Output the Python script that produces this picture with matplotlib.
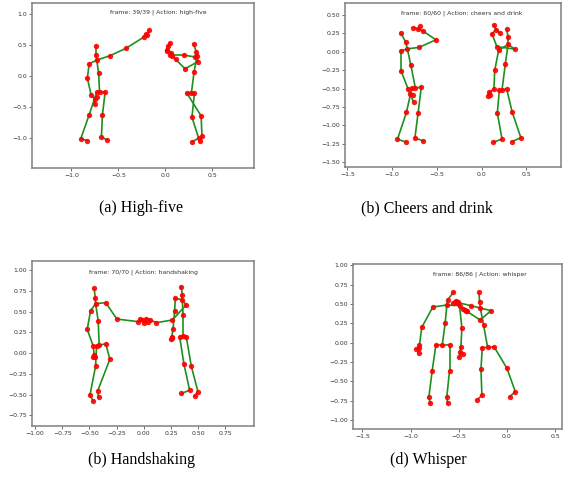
import numpy as np
import matplotlib
matplotlib.use("Agg")
import matplotlib.pyplot as plt

# NTU RGB+D 25-joint skeleton, joints listed 1..25
bones = [(1, 2), (2, 21), (3, 21), (4, 3), (5, 21), (6, 5), (7, 6), (8, 7),
         (9, 21), (10, 9), (11, 10), (12, 11), (13, 1), (14, 13), (15, 14),
         (16, 15), (17, 1), (18, 17), (19, 18), (20, 19), (22, 8), (23, 8),
         (24, 12), (25, 12)]

# (a) high-five
hf_p1_x = [-0.70, -0.71, -0.74, -0.74, -0.81, -0.83, -0.79, -0.75, -0.59, -0.42, -0.23, -0.20, -0.73,
           -0.81, -0.90, -0.83, -0.64, -0.67, -0.68, -0.62, -0.73, -0.75, -0.73, -0.17, -0.21]
hf_p1_y = [-0.27, 0.04, 0.33, 0.47, 0.19, -0.04, -0.31, -0.37, 0.32, 0.44, 0.62, 0.65, -0.27,
           -0.63, -1.02, -1.05, -0.26, -0.64, -0.99, -1.04, 0.25, -0.46, -0.34, 0.73, 0.67]
hf_p2_x = [0.277, 0.305, 0.33, 0.30, 0.347, 0.21, 0.11, 0.064, 0.32, 0.198, 0.05, 0.02, 0.227,
           0.38, 0.39, 0.37, 0.31, 0.283, 0.354, 0.283, 0.336, 0.015, 0.074, 0.045, 0.03]
hf_p2_y = [-0.28, 0.05, 0.38, 0.51, 0.226, 0.11, 0.26, 0.36, 0.30, 0.33, 0.33, 0.42, -0.28,
           -0.65, -0.98, -1.05, -0.28, -0.67, -1.01, -1.07, 0.318, 0.40, 0.32, 0.52, 0.47]

# (b) cheers and drink
cd_p1_x = [-0.74, -0.79, -0.846, -0.90, -0.90, -0.90, -0.82, -0.80, -0.70, -0.51, -0.66, -0.715, -0.78,
           -0.84, -0.94, -0.84, -0.674, -0.71, -0.745, -0.65, -0.83, -0.76, -0.77, -0.77, -0.69]
cd_p1_y = [-0.494, -0.186, 0.127, 0.25, 0.014, -0.26, -0.51, -0.58, 0.06, 0.163, 0.286, 0.313, -0.494,
           -0.825, -1.19, -1.23, -0.48, -0.834, -1.17, -1.215, 0.04, -0.68, -0.585, 0.33, 0.35]
cd_p2_x = [0.228, 0.265, 0.295, 0.28, 0.19, 0.146, 0.138, 0.086, 0.37, 0.17, 0.116, 0.16, 0.198,
           0.175, 0.228, 0.13, 0.28, 0.34, 0.438, 0.34, 0.295, 0.071, 0.093, 0.138, 0.206]
cd_p2_y = [-0.516, -0.163, 0.20, 0.31, 0.02, -0.254, -0.507, -0.553, 0.037, 0.07, 0.245, 0.30, -0.526,
           -0.833, -1.187, -1.232, -0.507, -0.815, -1.168, -1.222, 0.10, -0.598, -0.584, 0.367, 0.254]

# (c) handshaking
hs_p1_x = [-0.41, -0.419, -0.446, -0.456, -0.489, -0.52, -0.465, -0.456, -0.349, -0.248, -0.052, -0.031, -0.434,
           -0.443, -0.495, -0.465, -0.349, -0.312, -0.425, -0.416, -0.443, -0.45, -0.468, -0.006, 0.003]
hs_p1_y = [0.093, 0.386, 0.66, 0.78, 0.51, 0.286, 0.084, -0.024, 0.607, 0.41, 0.378, 0.406, 0.084,
           -0.157, -0.507, -0.575, 0.113, -0.076, -0.459, -0.535, 0.595, -0.044, -0.044, 0.398, 0.366]
hs_p2_x = [0.361, 0.361, 0.355, 0.343, 0.29, 0.284, 0.269, 0.257, 0.391, 0.263, 0.116, 0.061, 0.33,
           0.37, 0.422, 0.346, 0.391, 0.437, 0.498, 0.468, 0.355, 0.251, 0.263, 0.024, 0.04]
hs_p2_y = [0.205, 0.455, 0.70, 0.80, 0.66, 0.507, 0.286, 0.197, 0.58, 0.398, 0.366, 0.398, 0.197,
           -0.137, -0.447, -0.487, 0.197, -0.157, -0.463, -0.515, 0.64, 0.165, 0.185, 0.414, 0.378]

# (d) whisper
wh_p1_x = [-0.672, -0.641, -0.614, -0.555, -0.77, -0.884, -0.908, -0.915, -0.492, -0.468, -0.478, -0.485, -0.738,
           -0.776, -0.811, -0.797, -0.596, -0.596, -0.624, -0.617, -0.624, -0.918, -0.943, -0.496, -0.458]
wh_p1_y = [-0.034, 0.259, 0.556, 0.651, 0.461, 0.198, -0.03, -0.073, 0.478, 0.19, -0.06, -0.121, -0.034,
           -0.362, -0.707, -0.784, -0.026, -0.362, -0.698, -0.784, 0.487, -0.138, -0.082, -0.19, -0.147]
wh_p2_x = [-0.201, -0.243, -0.284, -0.291, -0.374, -0.503, -0.527, -0.541, -0.166, -0.277, -0.416, -0.44, -0.256,
           -0.27, -0.26, -0.312, -0.132, 0.0, 0.087, 0.028, -0.277, -0.555, -0.513, -0.458, -0.43]
wh_p2_y = [-0.06, 0.233, 0.526, 0.651, 0.478, 0.517, 0.539, 0.526, 0.414, 0.293, 0.405, 0.427, -0.065,
           -0.345, -0.681, -0.741, -0.056, -0.332, -0.634, -0.698, 0.448, 0.517, 0.53, 0.44, 0.405]

titles = ["frame: 39/39 | Action: high-five", "frame: 60/60 | Action: cheers and drink",
          "frame: 70/70 | Action: handshaking", "frame: 86/86 | Action: whisper"]
captions = ["(a) High-five", "(b) Cheers and drink", "(b) Handshaking", "(d) Whisper"]


def draw_skeleton(ax, xs, ys):
    for a, b in bones:
        ax.plot([xs[a - 1], xs[b - 1]], [ys[a - 1], ys[b - 1]], color="#1f8f1f", lw=1.2, zorder=2)
    ax.scatter(xs, ys, s=15, c="red", zorder=3, linewidths=0, alpha=0.9)


fig = plt.figure(figsize=(5.63, 4.83), dpi=100)

panels = [
    ([0.0568, 0.652, 0.394, 0.3416], (-1.419, 0.941), (-1.493, 1.170),
     np.arange(-1.0, 0.51, 0.5), np.arange(-1.0, 1.01, 0.5),
     [(hf_p1_x, hf_p1_y), (hf_p2_x, hf_p2_y)], (0.571, 0.944)),
    ([0.6133, 0.654, 0.384, 0.3395], (-1.523, 0.892), (-1.569, 0.662),
     np.arange(-1.5, 0.51, 0.5), np.arange(-1.5, 0.51, 0.25),
     [(cd_p1_x, cd_p1_y), (cd_p2_x, cd_p2_y)], (0.538, 0.939)),
    ([0.0568, 0.1186, 0.394, 0.3416], (-1.028, 1.012), (-0.875, 1.112),
     np.arange(-1.0, 0.76, 0.25), np.arange(-0.75, 1.01, 0.25),
     [(hs_p1_x, hs_p1_y), (hs_p2_x, hs_p2_y)], (0.501, 0.93)),
    ([0.627, 0.1118, 0.371, 0.3416], (-1.598, 0.570), (-1.116, 1.017),
     np.arange(-1.5, 0.51, 0.5), np.arange(-1.0, 1.01, 0.25),
     [(wh_p1_x, wh_p1_y), (wh_p2_x, wh_p2_y)], (0.607, 0.939)),
]

for i, (rect, xl, yl, xt, yt, people, tpos) in enumerate(panels):
    ax = fig.add_axes(rect)
    for xs, ys in people:
        draw_skeleton(ax, xs, ys)
    ax.set_xlim(xl)
    ax.set_ylim(yl)
    ax.set_xticks(xt)
    ax.set_yticks(yt)
    ax.tick_params(labelsize=4.4, length=2, width=0.5, pad=1.5, colors="#333333")
    for sp in ax.spines.values():
        sp.set_color("#808080")
        sp.set_linewidth(1.1)
    ax.text(tpos[0], tpos[1], titles[i], transform=ax.transAxes, ha="center", va="center",
            fontsize=4.4, color="#333333")

fig.text(141 / 563, 1 - 208 / 483, captions[0], ha="center", va="center",
         family="Liberation Serif", fontsize=11.5)
fig.text(427 / 563, 1 - 208 / 483, captions[1], ha="center", va="center",
         family="Liberation Serif", fontsize=11.5)
fig.text(141 / 563, 1 - 460 / 483, captions[2], ha="center", va="center",
         family="Liberation Serif", fontsize=11.5)
fig.text(428 / 563, 1 - 460 / 483, captions[3], ha="center", va="center",
         family="Liberation Serif", fontsize=11.5)

fig.savefig("out.png", dpi=100)
